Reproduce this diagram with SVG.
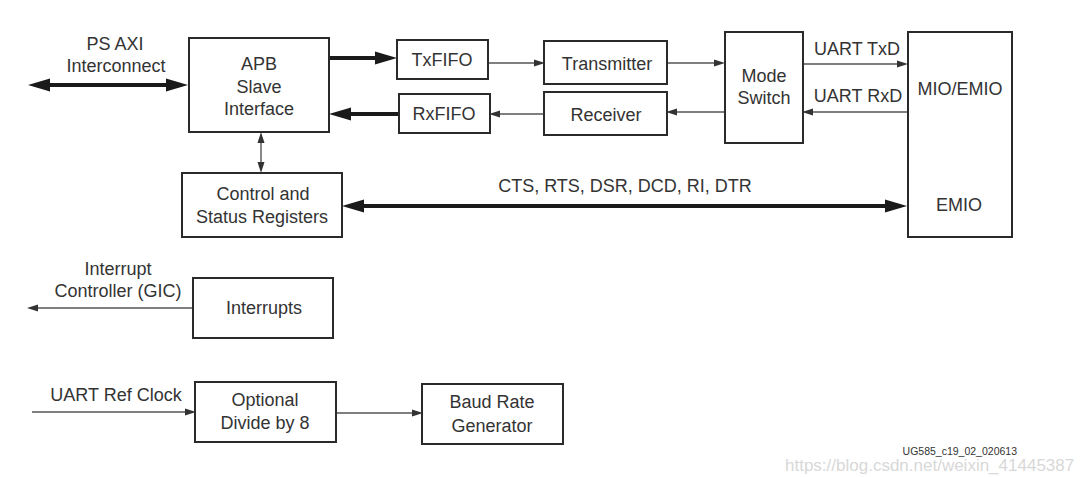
<svg xmlns="http://www.w3.org/2000/svg" width="1087" height="477" viewBox="0 0 1087 477">
<style>
.box{fill:#fff;stroke:#2a2a2a;stroke-width:2}
.t{font-family:"Liberation Sans",Arial,sans-serif;font-size:18px;fill:#333;text-anchor:middle}
.thick{stroke:#1a1a1a;stroke-width:4;fill:none}
.thin{stroke:#555;stroke-width:1.4;fill:none}
</style>
<defs>
<marker id="hb" markerUnits="userSpaceOnUse" markerWidth="22" markerHeight="14" refX="11" refY="7" orient="auto-start-reverse" viewBox="0 0 22 14">
<path d="M0,0.5 L22,7 L0,13.5 z" fill="#1a1a1a"/>
</marker>
<marker id="hs" markerUnits="userSpaceOnUse" markerWidth="11" markerHeight="8" refX="5" refY="4" orient="auto-start-reverse" viewBox="0 0 11 8">
<path d="M0,0.5 L11,4 L0,7.5 z" fill="#333"/>
</marker>
</defs>
<rect width="1087" height="477" fill="#fff"/>

<g id="connectors">
<line class="thick" x1="39" y1="85" x2="177" y2="85" marker-start="url(#hb)" marker-end="url(#hb)"/>
<line class="thick" x1="329" y1="58" x2="386" y2="58" marker-end="url(#hb)"/>
<line class="thick" x1="399" y1="114" x2="340" y2="114" marker-end="url(#hb)"/>
<line class="thin" x1="488" y1="63" x2="539" y2="63" marker-end="url(#hs)"/>
<line class="thin" x1="544" y1="114" x2="495" y2="114" marker-end="url(#hs)"/>
<line class="thin" x1="667" y1="63" x2="719" y2="63" marker-end="url(#hs)"/>
<line class="thin" x1="725" y1="112" x2="672" y2="112" marker-end="url(#hs)"/>
<line class="thin" x1="803" y1="64" x2="902" y2="64" marker-end="url(#hs)"/>
<line class="thin" x1="908" y1="112" x2="808" y2="112" marker-end="url(#hs)"/>
<line class="thin" x1="261" y1="138" x2="261" y2="167" marker-start="url(#hs)" marker-end="url(#hs)"/>
<line class="thick" x1="353" y1="206" x2="896" y2="206" marker-start="url(#hb)" marker-end="url(#hb)"/>
<line class="thin" x1="193" y1="308" x2="33" y2="308" marker-end="url(#hs)"/>
<line class="thin" x1="32" y1="412" x2="190" y2="412" marker-end="url(#hs)"/>
<line class="thin" x1="336" y1="413" x2="417" y2="413" marker-end="url(#hs)"/>
<text class="t" x="115" y="50">PS AXI</text>
<text class="t" x="116" y="72">Interconnect</text>
<text class="t" x="857" y="55">UART TxD</text>
<text class="t" x="858" y="102">UART RxD</text>
<text class="t" x="625" y="192">CTS, RTS, DSR, DCD, RI, DTR</text>
<text class="t" x="118" y="275">Interrupt</text>
<text class="t" x="118" y="297">Controller (GIC)</text>
<text class="t" x="116" y="401">UART Ref Clock</text>
</g>

<g id="apb">
<rect class="box" x="189" y="38" width="140" height="94"/>
<text class="t" x="259" y="70">APB</text>
<text class="t" x="259" y="93">Slave</text>
<text class="t" x="259" y="115">Interface</text>
</g>
<g id="txfifo">
<rect class="box" x="397" y="40" width="91" height="39"/>
<text class="t" x="442" y="66">TxFIFO</text>
</g>
<g id="rxfifo">
<rect class="box" x="399" y="94" width="91" height="39"/>
<text class="t" x="444" y="120">RxFIFO</text>
</g>
<g id="transmitter">
<rect class="box" x="544" y="41" width="123" height="43"/>
<text class="t" x="607" y="70">Transmitter</text>
</g>
<g id="receiver">
<rect class="box" x="544" y="92" width="123" height="43"/>
<text class="t" x="606" y="121">Receiver</text>
</g>
<g id="modeswitch">
<rect class="box" x="725" y="32" width="78" height="111"/>
<text class="t" x="764" y="82">Mode</text>
<text class="t" x="764" y="104">Switch</text>
</g>
<g id="mioemio">
<rect class="box" x="908" y="32" width="104" height="205"/>
<text class="t" x="960" y="95">MIO/EMIO</text>
<text class="t" x="959" y="211">EMIO</text>
</g>
<g id="csr">
<rect class="box" x="182" y="173" width="160" height="64"/>
<text class="t" x="263" y="200">Control and</text>
<text class="t" x="262" y="223">Status Registers</text>
</g>
<g id="interrupts">
<rect class="box" x="193" y="278" width="140" height="60"/>
<text class="t" x="264" y="314">Interrupts</text>
</g>
<g id="divide">
<rect class="box" x="195" y="382" width="141" height="60"/>
<text class="t" x="265" y="406">Optional</text>
<text class="t" x="265" y="429">Divide by 8</text>
</g>
<g id="baud">
<rect class="box" x="422" y="384" width="141" height="60"/>
<text class="t" x="492" y="408">Baud Rate</text>
<text class="t" x="492" y="432">Generator</text>
</g>
<text x="1017" y="455" font-family="Liberation Sans,Arial,sans-serif" font-size="10.5" fill="#333" text-anchor="end">UG585_c19_02_020613</text>
<text x="785" y="471" font-family="Liberation Sans,Arial,sans-serif" font-size="17" fill="#d8d8d8">https://blog.csdn.net/weixin_41445387</text>
</svg>
